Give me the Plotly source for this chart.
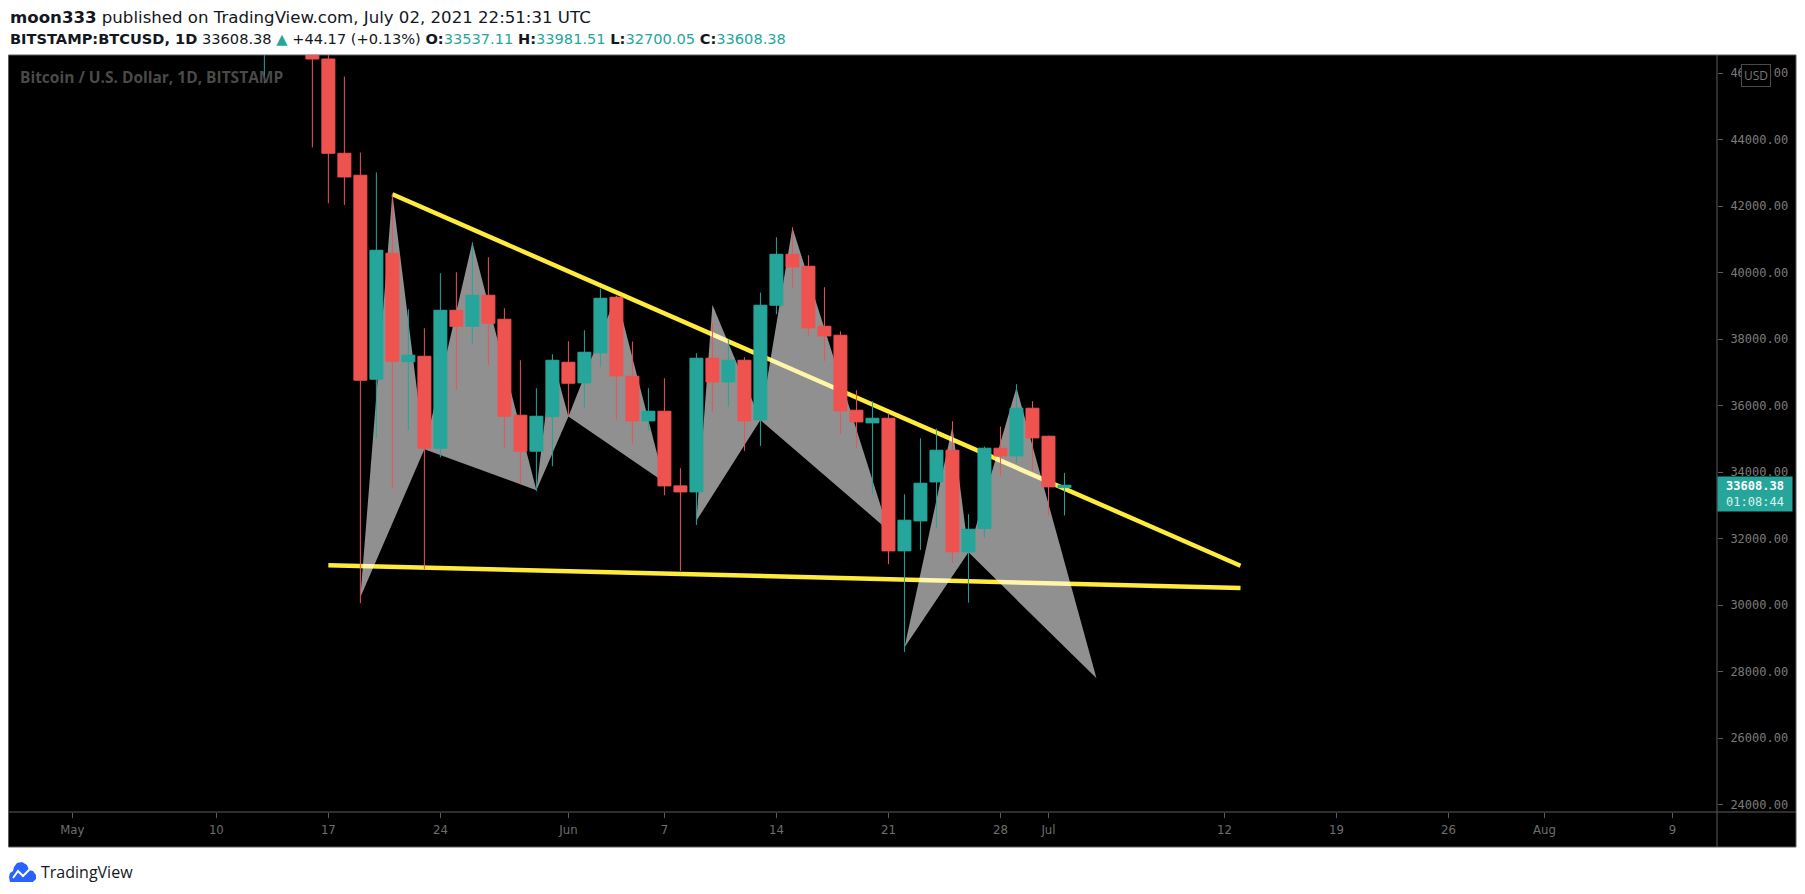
import plotly.graph_objects as go

# ---- daily candles (BITSTAMP BTCUSD, 1D) ----
dates = ["2021-05-13", "2021-05-14", "2021-05-15", "2021-05-16", "2021-05-17", "2021-05-18",
         "2021-05-19", "2021-05-20", "2021-05-21", "2021-05-22", "2021-05-23", "2021-05-24",
         "2021-05-25", "2021-05-26", "2021-05-27", "2021-05-28", "2021-05-29", "2021-05-30",
         "2021-05-31", "2021-06-01", "2021-06-02", "2021-06-03", "2021-06-04", "2021-06-05",
         "2021-06-06", "2021-06-07", "2021-06-08", "2021-06-09", "2021-06-10", "2021-06-11",
         "2021-06-12", "2021-06-13", "2021-06-14", "2021-06-15", "2021-06-16", "2021-06-17",
         "2021-06-18", "2021-06-19", "2021-06-20", "2021-06-21", "2021-06-22", "2021-06-23",
         "2021-06-24", "2021-06-25", "2021-06-26", "2021-06-27", "2021-06-28", "2021-06-29",
         "2021-06-30", "2021-07-01", "2021-07-02"]
opens = [49500, 49700, 49900, 46750, 46430, 43594, 42932, 36797, 40587, 37323, 37488, 34722,
         38872, 38390, 39323, 38601, 35714, 34632, 35670, 37308, 36687, 37589, 39263, 36887,
         35544, 35835, 33589, 33408, 37429, 36717, 37368, 35574, 39023, 40556, 40195, 38391,
         38120, 35865, 35484, 35624, 31634, 32536, 33709, 34662, 31604, 32306, 34722, 34491,
         35925, 35083, 33537.11]
highs = [51300, 51500, 50700, 49700, 49600, 45900, 43614, 43020, 42360, 38900, 38330, 39985,
         40015, 40917, 40466, 38932, 37368, 36526, 37549, 37940, 38271, 39524, 39303, 37930,
         36527, 36827, 34120, 37579, 38481, 38000, 37459, 39404, 41068, 41368, 40526, 39564,
         38240, 36466, 36135, 35775, 33338, 35023, 35313, 35534, 32737, 34772, 35373, 36647,
         36135, 35100, 33981.51]
lows = [45700, 48800, 46550, 43770, 42090, 42040, 30060, 35023, 33520, 35263, 31083, 34450,
        36466, 37850, 37218, 34722, 33640, 33430, 34180, 35684, 35925, 37168, 35574, 34842,
        35243, 33308, 31033, 32416, 35814, 35965, 34641, 34792, 38752, 39524, 38100, 37348,
        35143, 34722, 33338, 31233, 28597, 31664, 32326, 31283, 30080, 32035, 33890, 34271,
        34040, 32687, 32700.05]
closes = [49700, 49900, 46750, 46430, 43594, 42882, 36767, 40677, 37338, 37519, 34722, 38872,
          38390, 39323, 38480, 35684, 34632, 35684, 37368, 36677, 37609, 39233, 36897, 35544,
          35835, 33589, 33408, 37429, 36717, 37368, 35544, 39023, 40556, 40175, 38341, 38100,
          35845, 35514, 35624, 31634, 32557, 33669, 34662, 31604, 32286, 34722, 34491, 35925,
          35033, 33559, 33608.38]

# ---- XABCD patterns (X, A, B, C, D) ----
xabcd_1_dates = ["2021-05-19", "2021-05-21", "2021-05-23", "2021-05-26", "2021-05-30"]
xabcd_1_prices = [30240, 42390, 34690, 40920, 33460]
xabcd_2_dates = ["2021-05-30", "2021-05-31", "2021-06-01", "2021-06-04", "2021-06-07"]
xabcd_2_prices = [33460, 37450, 35680, 39320, 33700]
xabcd_3_dates = ["2021-06-09", "2021-06-10", "2021-06-13", "2021-06-15", "2021-06-21"]
xabcd_3_prices = [32540, 39040, 35570, 41360, 32250]
xabcd_4_dates = ["2021-06-22", "2021-06-25", "2021-06-26", "2021-06-29", "2021-07-04"]
xabcd_4_prices = [28730, 35380, 31590, 36550, 27800]

# ---- trend lines ----
upper_line_dates = ["2021-05-21", "2021-07-13"]
upper_line_prices = [42362, 31186]
lower_line_dates = ["2021-05-17", "2021-07-13"]
lower_line_prices = [31204, 30518]

# ---- axis ticks ----
x_tick_dates = ["2021-05-01", "2021-05-10", "2021-05-17", "2021-05-24", "2021-06-01",
                "2021-06-07", "2021-06-14", "2021-06-21", "2021-06-28", "2021-07-01",
                "2021-07-12", "2021-07-19", "2021-07-26", "2021-08-01", "2021-08-09"]
x_tick_text = ["May", "10", "17", "24", "Jun", "7", "14", "21", "28", "Jul",
               "12", "19", "26", "Aug", "9"]
y_tick_values = [24000, 26000, 28000, 30000, 32000, 34000, 36000, 38000, 40000,
                 42000, 44000, 46000]

last_price = 33608.38

# page body has an 8px margin, so the figure is shifted by that much
OFF = 8
W, H = 1805 - OFF, 894 - OFF
ML, MT = 8 - OFF, 55 - OFF
PW, PH = 1709, 757
MR, MB = W - ML - PW, H - MT - PH
X_RANGE = ["2021-04-26 23:30", "2021-08-11 18:40"]
Y_RANGE = [23780, 46550]

GREEN = "#26a69a"
RED = "#ef5350"
YELLOW = "#ffeb3b"
FRAME = "#5c5c5c"


def px(x, y):
    # screenshot pixel position -> paper fraction
    return (x - OFF - ML) / PW, 1 - (y - OFF - MT) / PH


def triangles(d, p):
    # XAB and BCD triangles of a harmonic pattern
    xs = [d[0], d[1], d[2], d[0], None, d[2], d[3], d[4], d[2]]
    ys = [p[0], p[1], p[2], p[0], None, p[2], p[3], p[4], p[2]]
    return xs, ys


fig = go.Figure()

for ld, lp in [(upper_line_dates, upper_line_prices), (lower_line_dates, lower_line_prices)]:
    fig.add_trace(go.Scatter(x=ld, y=lp, mode="lines", line=dict(color=YELLOW, width=4.5),
                             hoverinfo="skip", showlegend=False))

for pd_, pp in [(xabcd_1_dates, xabcd_1_prices), (xabcd_2_dates, xabcd_2_prices),
                (xabcd_3_dates, xabcd_3_prices), (xabcd_4_dates, xabcd_4_prices)]:
    tx, ty = triangles(pd_, pp)
    fig.add_trace(go.Scatter(x=tx, y=ty, mode="lines", fill="toself",
                             fillcolor="rgba(255,255,255,0.565)", line=dict(width=0),
                             hoverinfo="skip", showlegend=False))

fig.add_trace(go.Candlestick(
    x=dates, open=opens, high=highs, low=lows, close=closes,
    xaxis="x2", yaxis="y2",
    increasing=dict(line=dict(color=GREEN, width=1), fillcolor=GREEN),
    decreasing=dict(line=dict(color=RED, width=1), fillcolor=RED),
    whiskerwidth=0, showlegend=False))

axis_font = dict(family="Liberation Sans Narrow, DejaVu Sans Condensed, sans-serif",
                 size=13, color="#6e6e6e")

fig.update_layout(
    width=W, height=H,
    margin=dict(l=ML, r=MR, t=MT, b=MB, autoexpand=False),
    paper_bgcolor="white", plot_bgcolor="black",
    boxgap=0.1, boxgroupgap=0.1,
    xaxis=dict(type="date", range=X_RANGE, showgrid=False, zeroline=False,
               showline=False, ticks="outside", ticklen=5, tickcolor=FRAME,
               tickvals=x_tick_dates, ticktext=x_tick_text, tickfont=axis_font,
               rangeslider=dict(visible=False), fixedrange=True),
    yaxis=dict(side="right", range=Y_RANGE, showgrid=False, zeroline=False,
               showline=False, ticks="outside", ticklen=5, tickcolor=FRAME,
               tickvals=y_tick_values, tickformat=".2f", ticklabelstandoff=5,
               tickfont=dict(family="DejaVu Sans Mono", size=12, color="#7a7a7a"),
               fixedrange=True),
    xaxis2=dict(type="date", range=X_RANGE, overlaying="x", visible=False,
                rangeslider=dict(visible=False)),
    yaxis2=dict(range=Y_RANGE, overlaying="y", side="right", visible=False),
    showlegend=False,
)

# dark frame around chart + axis panes
x0, y0 = px(8.5, 847)
x1, y1 = px(1796, 55)
fig.add_shape(type="rect", xref="paper", yref="paper", x0=x0, y0=y0, x1=x1, y1=y1,
              fillcolor="black", line=dict(color=FRAME, width=1), layer="below")
fig.add_shape(type="line", xref="paper", yref="paper", x0=x0, x1=x1, y0=0, y1=0,
              line=dict(color=FRAME, width=1), layer="below")
fig.add_shape(type="line", xref="paper", yref="paper", x0=1, x1=1, y0=y0, y1=y1,
              line=dict(color=FRAME, width=1), layer="below")

# header
hx, hy = px(9, 18)
fig.add_annotation(xref="paper", yref="paper", x=hx, y=hy, xanchor="left", yanchor="middle",
                   showarrow=False, borderpad=0,
                   text="<b>moon333</b> published on TradingView.com, July 02, 2021 22:51:31 UTC",
                   font=dict(family="DejaVu Sans", size=16.6, color="#131722"))
hx, hy = px(9, 38.5)
fig.add_annotation(
    xref="paper", yref="paper", x=hx, y=hy, xanchor="left", yanchor="middle", showarrow=False,
    borderpad=0,
    text=("<b>BITSTAMP:BTCUSD, 1D</b> 33608.38 <span style='color:%s'>▲</span> +44.17 (+0.13%%) "
          "<b>O:</b><span style='color:%s'>33537.11</span> <b>H:</b><span style='color:%s'>33981.51</span> "
          "<b>L:</b><span style='color:%s'>32700.05</span> <b>C:</b><span style='color:%s'>33608.38</span>")
         % (GREEN, GREEN, GREEN, GREEN, GREEN),
    font=dict(family="DejaVu Sans", size=14.6, color="#131722"))

# chart title inside the pane
tx, ty = px(18, 77)
fig.add_annotation(xref="paper", yref="paper", x=tx, y=ty, xanchor="left", yanchor="middle",
                   showarrow=False, text="<b>Bitcoin / U.S. Dollar, 1D, BITSTAMP</b>",
                   font=dict(family="Open Sans", size=15.5, color="#4a4a4a"))

# currency badge
ux, uy = px(1756, 75)
fig.add_annotation(xref="paper", yref="paper", x=ux, y=uy, xanchor="center", yanchor="middle",
                   showarrow=False, text="USD", bgcolor="black", bordercolor="#4a4a4a",
                   borderwidth=1, borderpad=2,
                   font=dict(family="Open Sans", size=12, color="#7a7a7a"))

# last price label
fig.add_annotation(xref="paper", yref="y", x=1, y=last_price, xanchor="left", yanchor="top",
                   yshift=9, showarrow=False, align="center", valign="middle",
                   width=68, height=28, bgcolor=GREEN, borderpad=3,
                   text="<b>33608.38</b><br><span style='color:#d8f2ee'>01:08:44</span>",
                   font=dict(family="DejaVu Sans Mono", size=12, color="white"))

# TradingView footer logo (cloud with a white chart line)
cloud = [(10, 882), (33, 882), (36, 879), (36, 875), (33, 871), (29, 870), (27, 865),
         (22, 862), (17, 863), (14, 867), (13, 871), (10, 873), (9, 877), (10, 882)]
path = "M " + " L ".join("%.5f %.5f" % px(cx, cy) for cx, cy in cloud) + " Z"
fig.add_shape(type="path", xref="paper", yref="paper", path=path,
              fillcolor="#2962ff", line=dict(width=0))
zig = [(13, 878), (18, 871), (23, 876), (30, 869)]
path = "M " + " L ".join("%.5f %.5f" % px(cx, cy) for cx, cy in zig)
fig.add_shape(type="path", xref="paper", yref="paper", path=path,
              line=dict(color="white", width=2))
fx, fy = px(39, 872)
fig.add_annotation(xref="paper", yref="paper", x=fx, y=fy, xanchor="left", yanchor="middle",
                   showarrow=False, text="TradingView",
                   font=dict(family="Open Sans", size=16, color="#131722"))

fig.write_html("out.html")
